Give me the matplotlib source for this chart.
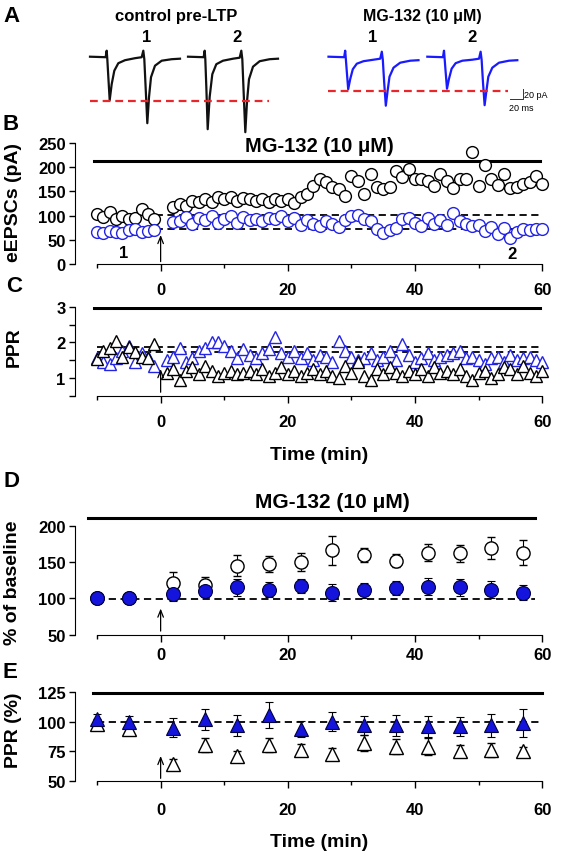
import matplotlib.pyplot as plt

W, H = 563, 853
plt.rcParams['font.family'] = ['Liberation Sans', 'DejaVu Sans']
plt.rcParams['font.weight'] = 'bold'

# ---- panel A: sample traces (keypoints, ms / pA)
trace_ms = [0, 25, 26.7, 27.7, 29.3, 31.5, 34.7, 38.9, 45.3, 56, 72, 82.7,
            85.3, 86.9, 89, 91.7, 94.4, 97.6, 104, 114.7, 130.7, 144]
ctrl_sweep1 = [0, -1, 12, -5, -40, -87, -55, -28, -13, -7, -3, -1,
               12, -5, -61, -133, -81, -41, -18, -8, -5, -4]
ctrl_sweep2 = [0, -1, 12, -5, -60, -145, -80, -35, -15, -8, -4, -2,
               12, -5, -70, -151, -90, -45, -20, -9, -5, -4]
mg_sweep1 = [0, -1, 12, -4, -30, -65, -45, -25, -14, -9, -6, -4,
             10, -6, -50, -98, -70, -40, -22, -12, -8, -7]
mg_sweep2 = [0, -1, 12, -4, -30, -64, -44, -24, -13, -8, -6, -4,
             10, -6, -50, -97, -70, -40, -22, -12, -8, -7]
ctrl_ref_level = -88
mg_ref_level = -68

# ---- panel B: eEPSC amplitudes (pA)
eepsc_time = list(range(-10, 0)) + list(range(2, 61))
eepsc_ctrl = [103, 98, 108, 94, 100, 92, 95, 113, 103, 92,
              117, 124, 120, 130, 128, 135, 128, 138, 134, 138,
              131, 136, 134, 131, 134, 128, 135, 131, 134, 127,
              138, 145, 162, 176, 169, 160, 155, 141, 182, 172,
              145, 186, 160, 155, 160, 193, 179, 196, 176, 176,
              172, 162, 186, 172, 158, 176, 176, 232, 162, 205,
              176, 163, 186, 158, 160, 165, 170, 182, 165]
eepsc_mg = [67, 64, 68, 66, 65, 70, 72, 66, 68, 70,
            86, 88, 97, 82, 95, 90, 100, 84, 92, 100,
            85, 98, 90, 92, 88, 96, 92, 99, 88, 95,
            80, 90, 82, 78, 88, 82, 77, 90, 100, 102,
            92, 88, 72, 64, 70, 75, 92, 96, 85, 78,
            95, 82, 90, 80, 106, 88, 82, 78, 80, 68,
            76, 62, 74, 54, 66, 72, 70, 73, 72]

# ---- panel C: paired-pulse ratio
ppr_time = list(range(-10, 0)) + list(range(1, 61))
ppr_ctrl = [1.53, 1.77, 1.85, 2.05, 1.6, 1.86, 1.72, 1.58, 1.55, 1.95,
            1.15, 1.25, 0.95, 1.2, 1.3, 1.1, 1.35, 1.2, 1.05, 1.15,
            1.2, 1.1, 1.15, 1.2, 1.1, 1.25, 1.05, 1.15, 1.3, 1.1,
            1.2, 1.05, 1.15, 1.25, 1.1, 1.2, 1.05, 1.0, 1.35, 1.15,
            1.45, 1.05, 0.95, 1.25, 1.1, 1.3, 1.15, 1.05, 1.2, 1.1,
            1.25, 1.05, 1.3, 1.15, 1.2, 1.1, 1.25, 1.05, 0.95, 1.15,
            1.2, 1.0, 1.1, 1.3, 1.25, 1.1, 1.35, 1.15, 1.05, 1.2]
ppr_mg = [1.55, 1.45, 1.4, 1.55, 1.75, 1.9, 1.45, 1.7, 1.6, 1.35,
          1.5, 1.6, 1.85, 1.45, 1.55, 1.75, 1.85, 2.0, 2.0, 1.9,
          1.75, 1.55, 1.8, 1.65, 1.55, 1.7, 1.8, 2.15, 1.7, 1.6,
          1.75, 1.55, 1.7, 1.5, 1.65, 1.6, 1.45, 2.05, 1.75, 1.6,
          1.5, 1.55, 1.7, 1.5, 1.6, 1.75, 1.5, 1.95, 1.65, 1.45,
          1.55, 1.7, 1.5, 1.6, 1.65, 1.7, 1.75, 1.55, 1.6, 1.5,
          1.4, 1.55, 1.6, 1.45, 1.65, 1.5, 1.55, 1.6, 1.5, 1.45]

# ---- panels D/E: group means (5-min bins)
bin_time = [-10, -5, 2, 7, 12, 17, 22, 27, 32, 37, 42, 47, 52, 57]
pct_ctrl = [100, 100, 121, 118, 145, 147, 150, 166, 160, 152, 163, 162, 169, 163]
pct_ctrl_err = [3, 3, 15, 12, 14, 11, 12, 20, 10, 9, 12, 12, 15, 17]
pct_mg = [100, 100, 106, 110, 115, 112, 117, 108, 111, 114, 116, 115, 112, 108]
pct_mg_err = [6, 5, 9, 8, 12, 10, 10, 12, 10, 10, 12, 12, 12, 10]

pprpct_ctrl = [98, 94, 64, 80, 71, 80, 76, 73, 82, 79, 79, 75, 76, 75]
pprpct_ctrl_err = [4, 3, 4, 6, 4, 6, 5, 5, 7, 6, 7, 5, 6, 4]
pprpct_mg = [102, 100, 95, 102, 97, 106, 94, 100, 97, 97, 96, 96, 97, 99]
pprpct_mg_err = [5, 5, 8, 9, 9, 11, 7, 8, 8, 9, 9, 8, 10, 12]

BLUE = '#2323e6'
FILL_BLUE = '#1414dc'

fig = plt.figure(figsize=(W / 100, H / 100), dpi=100)


def px_axes(left, top, right, bottom):
    return fig.add_axes([left / W, 1 - bottom / H, (right - left) / W, (bottom - top) / H])


def fig_text(x, y, s, **kw):
    fig.text(x / W, 1 - y / H, s, **kw)


# ---------------- A
axA = px_axes(0, 0, 563, 120)
axA.set_xlim(0, 563 * 1.6)
axA.set_ylim(-124.6, 115.4)
axA.axis('off')
for x0, sweep in [(144, ctrl_sweep1), (300.8, ctrl_sweep2)]:
    axA.plot([x0 + t for t in trace_ms], sweep, color='#111111', lw=1.6, clip_on=False)
for x0, sweep in [(525.6, mg_sweep1), (683.7, mg_sweep2)]:
    axA.plot([x0 + t for t in trace_ms], sweep, color='#1a1aff', lw=1.6, clip_on=False)
axA.plot([144, 430], [ctrl_ref_level] * 2, color='#e8262b', lw=1.6, dashes=(3.5, 2.2))
axA.plot([525, 812], [mg_ref_level] * 2, color='#e8262b', lw=1.6, dashes=(3.5, 2.2))
axA.plot([816, 836, 836], [-85, -85, -65], color='#333333', lw=0.7)
axA.text(838, -75, '20 pA', fontsize=6.5, fontweight='normal', va='center', ha='left')
axA.text(814, -92, '20 ms', fontsize=6.5, fontweight='normal', va='top', ha='left')

fig_text(11, 16, 'A', fontsize=16, ha='center', va='center')
fig_text(176, 16, 'control pre-LTP', fontsize=12, ha='center', va='center')
fig_text(422, 17, 'MG-132 (10 \u03bcM)', fontsize=11.5, ha='center', va='center')
for x, s in [(147, '1'), (237, '2'), (373, '1'), (472, '2')]:
    fig_text(x, 38, s, fontsize=12, ha='center', va='center')


# ---------------- shared styling for time axes
def style_time_axis(ax, ylo, yhi, yticks, yminor, xpad):
    ax.set_xlim(-13.4, 61.5)
    ax.set_ylim(ylo, yhi)
    ax.patch.set_alpha(0)
    for s in ['top', 'right']:
        ax.spines[s].set_visible(False)
    ax.spines['left'].set_bounds(ylo, yhi)
    ax.spines['bottom'].set_bounds(-10, 60)
    ax.set_xticks([0, 20, 40, 60])
    ax.set_xticks([-10, 10, 30, 50], minor=True)
    ax.set_xticklabels(['0', '20', '40', '60'])
    ax.set_yticks(yticks)
    ax.set_yticks(yminor, minor=True)
    ax.tick_params(axis='x', which='major', length=5, width=1, pad=xpad, labelsize=12)
    ax.tick_params(axis='x', which='minor', length=3, width=1)
    ax.tick_params(axis='y', which='both', length=4, width=1, pad=3, labelsize=12)


def arrow(ax, y0, y1):
    ax.annotate('', xy=(0, y1), xytext=(0, y0),
                arrowprops=dict(arrowstyle='->,head_length=0.5,head_width=0.2',
                                lw=0.9, color='black', shrinkA=0, shrinkB=0))


# ---------------- B
axB = px_axes(75.4, 144, 551.8, 265)
style_time_axis(axB, 0, 250, [0, 50, 100, 150, 200, 250], [], 8)
axB.plot([-10.5, 59.7], [212, 212], color='black', lw=2.2)
axB.plot([-10, 60], [101, 101], color='black', lw=1.3, dashes=(4, 2.5))
axB.plot([-10, 60], [72, 72], color='black', lw=1.3, dashes=(4, 2.5))
axB.plot(eepsc_time, eepsc_ctrl, 'o', ms=8.5, mfc='white', mec='black', mew=1.0, clip_on=False)
axB.plot(eepsc_time, eepsc_mg, 'o', ms=8.5, mfc='white', mec=BLUE, mew=1.0, clip_on=False)
axB.text(25, 244, 'MG-132 (10 \u03bcM)', fontsize=14.5, ha='center', va='center')
axB.text(-5.8, 24, '1', fontsize=12, ha='center', va='center')
axB.text(55.2, 21, '2', fontsize=12, ha='center', va='center')
arrow(axB, 5, 60)
fig_text(14, 203, 'eEPSCs (pA)', fontsize=14, rotation=90, ha='center', va='center')
fig_text(11, 124, 'B', fontsize=16, ha='center', va='center')

# ---------------- C
axC = px_axes(75.4, 307.7, 551.8, 396.8)
style_time_axis(axC, 0.5, 3.0, [1, 2, 3], [0.5, 1.5, 2.5], 8)
axC.plot([-10.5, 59.7], [2.95, 2.95], color='black', lw=2.2)
axC.plot([-10, 60], [1.87, 1.87], color='black', lw=1.3, dashes=(4, 2.5))
axC.plot([-10, 60], [1.72, 1.72], color='black', lw=1.3, dashes=(4, 2.5))
axC.plot(ppr_time, ppr_mg, '^', ms=9, mfc='white', mec=BLUE, mew=1.0, clip_on=False)
axC.plot(ppr_time, ppr_ctrl, '^', ms=9, mfc='white', mec='black', mew=1.0, clip_on=False)
arrow(axC, 0.6, 1.25)
fig_text(14, 347, 'PPR', fontsize=14, rotation=90, ha='center', va='center')
fig_text(14, 287, 'C', fontsize=16, ha='center', va='center')
fig_text(319.6, 456, 'Time (min)', fontsize=14, ha='center', va='center')

# ---------------- D
axD = px_axes(75.4, 526.7, 551.8, 635.7)
style_time_axis(axD, 50, 200, [50, 100, 150, 200], [], 4)
axD.plot([-11.4, 58.9], [210, 210], color='black', lw=2.2, clip_on=False)
axD.plot([-10, 58.9], [99, 99], color='black', lw=1.3, dashes=(4, 2.5))
axD.errorbar(bin_time, pct_ctrl, yerr=pct_ctrl_err, fmt='o', ms=9.5, mfc='white', mec='black',
             mew=1.0, ecolor='black', elinewidth=0.8, capsize=3, capthick=0.8)
axD.errorbar(bin_time, pct_mg, yerr=pct_mg_err, fmt='o', ms=10, mfc=FILL_BLUE, mec='#000040',
             mew=0.8, ecolor='black', elinewidth=0.8, capsize=3, capthick=0.8)
axD.text(27, 233, 'MG-132 (10 \u03bcM)', fontsize=15, ha='center', va='center', clip_on=False)
arrow(axD, 55, 86)
fig_text(13, 583, '% of baseline', fontsize=14, rotation=90, ha='center', va='center')
fig_text(11, 482, 'D', fontsize=16, ha='center', va='center')

# ---------------- E
axE = px_axes(75.4, 693.3, 551.8, 781.7)
style_time_axis(axE, 50, 125, [50, 75, 100, 125], [], 10)
axE.plot([-10.7, 60], [124.4, 124.4], color='black', lw=2.2, clip_on=False)
axE.plot([-10, 60], [100, 100], color='black', lw=1.3, dashes=(4, 2.5))
axE.errorbar(bin_time, pprpct_ctrl, yerr=pprpct_ctrl_err, fmt='^', ms=10, mfc='white', mec='black',
             mew=1.0, ecolor='black', elinewidth=0.8, capsize=3, capthick=0.8)
axE.errorbar(bin_time, pprpct_mg, yerr=pprpct_mg_err, fmt='^', ms=10.5, mfc=FILL_BLUE, mec='#000040',
             mew=0.8, ecolor='black', elinewidth=0.8, capsize=3, capthick=0.8)
arrow(axE, 52, 71)
fig_text(14, 730, 'PPR (%)', fontsize=14, rotation=90, ha='center', va='center')
fig_text(10, 673, 'E', fontsize=16, ha='center', va='center')
fig_text(319.6, 843, 'Time (min)', fontsize=14, ha='center', va='center')

fig.savefig('out.png', dpi=100)
